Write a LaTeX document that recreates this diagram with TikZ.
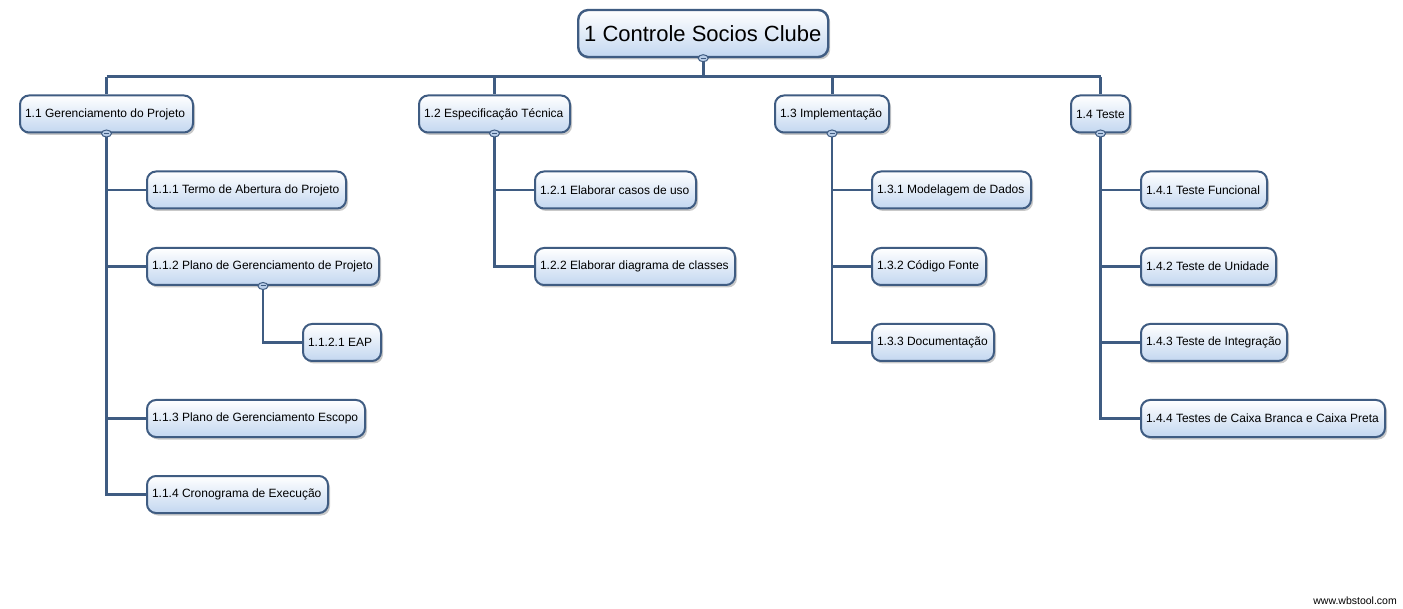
\documentclass[tikz,border=0pt]{standalone}
\usepackage{fontspec}
\setmainfont{Liberation Sans}
\usetikzlibrary{shadows,shapes.geometric}
\definecolor{linec}{HTML}{3F5C82}
\definecolor{boxbot}{HTML}{C3D7F0}
\definecolor{knobc}{HTML}{B8CDE8}
\newcommand{\bx}[2]{\makebox[#1pt][l]{#2}}
\tikzset{
  wbox/.style={rounded corners=9pt, draw=linec, line width=2pt, top color=white, middle color=boxbot!25, bottom color=boxbot,
    drop shadow={shadow xshift=2pt, shadow yshift=-2.5pt, opacity=0.35, fill=black!60},
    font=\fontsize{12}{14}\selectfont, inner xsep=5pt, inner ysep=0pt, minimum height=37pt,
    anchor=west},
  rootbox/.style={wbox, font=\fontsize{22}{26}\selectfont, inner xsep=6pt, minimum height=47pt, line width=2.4pt, rounded corners=10pt},
  conn/.style={draw=linec, line width=2.6pt},
  barline/.style={draw=linec, line width=3pt},
  knob/.style={ellipse, draw=linec, line width=1pt, fill=knobc, minimum width=10pt, minimum height=7pt, inner sep=0pt,
    path picture={\draw[linec, line width=1pt] ([xshift=-2.5pt]path picture bounding box.center) -- ([xshift=2.5pt]path picture bounding box.center);}},
}
\begin{document}
\begin{tikzpicture}[x=1pt,y=-1pt]
\useasboundingbox[fill=white] (0,0) rectangle (1403,609);
% nodes
\node[rootbox] (r) at (577,33.5) {\bx{238}{1 Controle Socios Clube}};
\node[wbox] (n1) at (19,114) {\bx{163}{1.1 Gerenciamento do Projeto}};
\node[wbox] (n2) at (418,114) {\bx{141}{1.2 Especificação Técnica}};
\node[wbox] (n3) at (774,114) {\bx{104}{1.3 Implementação}};
\node[wbox] (n4) at (1070,114) {\bx{49}{1.4 Teste}};
\node[wbox] (n11) at (146,190) {\bx{189}{1.1.1 Termo de Abertura do Projeto}};
\node[wbox] (n12) at (146,266.5) {\bx{222}{1.1.2 Plano de Gerenciamento de Projeto}};
\node[wbox] (n121) at (302,342.5) {\bx{68}{1.1.2.1 EAP}};
\node[wbox] (n13) at (146,418.5) {\bx{208}{1.1.3 Plano de Gerenciamento Escopo}};
\node[wbox] (n14) at (146,494.5) {\bx{171}{1.1.4 Cronograma de Execução}};
\node[wbox] (n21) at (534,190) {\bx{151}{1.2.1 Elaborar casos de uso}};
\node[wbox] (n22) at (534,266.5) {\bx{190}{1.2.2 Elaborar diagrama de classes}};
\node[wbox] (n31) at (871,190) {\bx{149}{1.3.1 Modelagem de Dados}};
\node[wbox] (n32) at (871,266.5) {\bx{104}{1.3.2 Código Fonte}};
\node[wbox] (n33) at (871,342.5) {\bx{112}{1.3.3 Documentação}};
\node[wbox] (n41) at (1140,190) {\bx{116}{1.4.1 Teste Funcional}};
\node[wbox] (n42) at (1140,266.5) {\bx{125}{1.4.2 Teste de Unidade}};
\node[wbox] (n43) at (1140,342.5) {\bx{136}{1.4.3 Teste de Integração}};
\node[wbox] (n44) at (1140,418.5) {\bx{234}{1.4.4 Testes de Caixa Branca e Caixa Preta}};
% bar coordinates
\coordinate (bar) at (r.south |- 0,77);
\coordinate (barL) at (n1.north |- bar);
\coordinate (barR) at (n4.north |- bar);
% connectors
\draw[barline] (r.south) -- (bar);
\draw[barline] (barL) -- (barR);
\draw[barline] (barL) -- (n1.north);
\draw[barline] (n2.north |- bar) -- (n2.north);
\draw[barline] (n3.north |- bar) -- (n3.north);
\draw[barline] (barR) -- (n4.north);
% 1.1
\draw[conn] (n1.south) |- (n14.west);
\draw[conn] (n1.south |- n11.west) -- (n11.west);
\draw[conn] (n1.south |- n12.west) -- (n12.west);
\draw[conn] (n1.south |- n13.west) -- (n13.west);
\draw[conn] (n12.south) |- (n121.west);
% 1.2
\draw[conn] (n2.south) |- (n22.west);
\draw[conn] (n2.south |- n21.west) -- (n21.west);
% 1.3
\draw[conn] (n3.south) |- (n33.west);
\draw[conn] (n3.south |- n31.west) -- (n31.west);
\draw[conn] (n3.south |- n32.west) -- (n32.west);
% 1.4
\draw[conn] (n4.south) |- (n44.west);
\draw[conn] (n4.south |- n41.west) -- (n41.west);
\draw[conn] (n4.south |- n42.west) -- (n42.west);
\draw[conn] (n4.south |- n43.west) -- (n43.west);
% knobs
\node[knob] (k0) at (r.south) {};
\node[knob] (k1) at (n1.south) {};
\node[knob] (k2) at (n2.south) {};
\node[knob] (k3) at (n3.south) {};
\node[knob] (k4) at (n4.south) {};
\node[knob] (k12) at (n12.south) {};
% watermark
\node[font=\fontsize{10.5}{12}\selectfont, anchor=east, inner sep=0pt] (wm) at (1397,601) {www.wbstool.com};
\end{tikzpicture}
\end{document}
